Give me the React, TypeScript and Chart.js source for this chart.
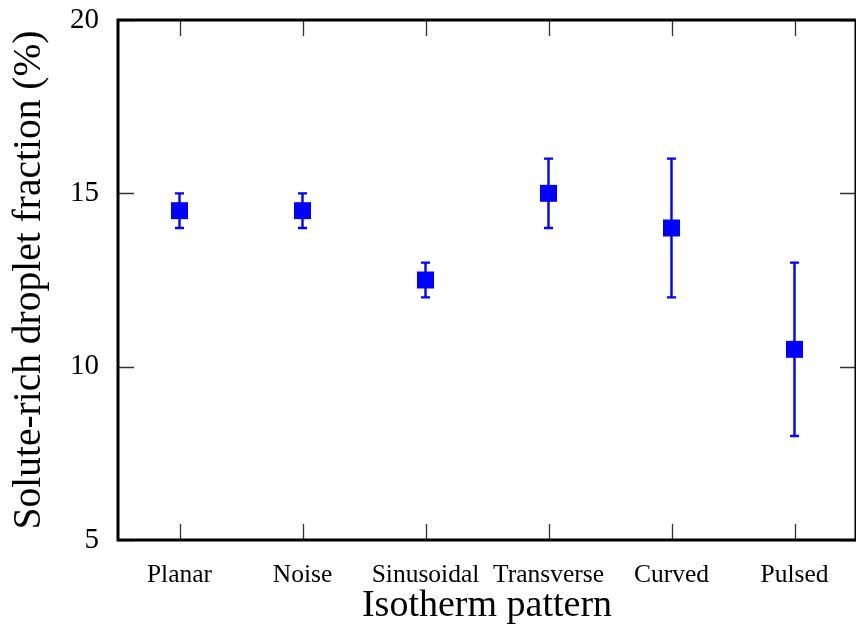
import React, { useEffect, useRef } from "react";
import { Chart, registerables } from "chart.js";

Chart.register(...registerables);

const categories = ["Planar", "Noise", "Sinusoidal", "Transverse", "Curved", "Pulsed"];
const fractionMeans = [14.5, 14.5, 12.5, 15, 14, 10.5];
const fractionErrors = [0.5, 0.5, 0.5, 1, 2, 2.5];
const yTickValues = [5, 10, 15, 20];

const FONT = '"Liberation Serif", "Times New Roman", Times, serif';
const BLUE = "#0000ff";

const framePlugin = {
  id: "frameAndErrors",
  beforeDatasetsDraw(chart: any) {
    const { ctx, scales } = chart;
    const x = scales.x;
    const y = scales.y;
    ctx.save();
    ctx.strokeStyle = BLUE;
    ctx.lineWidth = 2.4;
    fractionMeans.forEach((m, i) => {
      const px = x.getPixelForValue(i);
      const top = y.getPixelForValue(m + fractionErrors[i]);
      const bot = y.getPixelForValue(m - fractionErrors[i]);
      ctx.beginPath();
      ctx.moveTo(px, top);
      ctx.lineTo(px, bot);
      ctx.moveTo(px - 4.5, top);
      ctx.lineTo(px + 4.5, top);
      ctx.moveTo(px - 4.5, bot);
      ctx.lineTo(px + 4.5, bot);
      ctx.stroke();
    });
    ctx.restore();
  },
  afterDraw(chart: any) {
    const { ctx, chartArea: a, scales } = chart;
    const x = scales.x;
    const y = scales.y;
    ctx.save();
    ctx.strokeStyle = "#333";
    ctx.lineWidth = 1.3;
    ctx.beginPath();
    categories.forEach((_, i) => {
      const px = Math.round(x.getPixelForValue(i)) + 0.5;
      ctx.moveTo(px, a.bottom);
      ctx.lineTo(px, a.bottom - 16);
      ctx.moveTo(px, a.top);
      ctx.lineTo(px, a.top + 16);
    });
    yTickValues.forEach((v) => {
      const py = Math.round(y.getPixelForValue(v)) + 0.5;
      ctx.moveTo(a.left, py);
      ctx.lineTo(a.left + 16, py);
      ctx.moveTo(a.right, py);
      ctx.lineTo(a.right - 16, py);
    });
    ctx.stroke();
    ctx.strokeStyle = "#000";
    ctx.lineWidth = 3;
    ctx.strokeRect(a.left, a.top, a.right - a.left, a.bottom - a.top);
    ctx.restore();
  },
};

export default function App() {
  const canvasRef = useRef<HTMLCanvasElement | null>(null);

  useEffect(() => {
    document.body.style.margin = "0";
    const canvas = canvasRef.current;
    if (!canvas) return;
    const chart = new Chart(canvas, {
      type: "line",
      data: {
        labels: categories,
        datasets: [
          {
            label: "Solute-rich droplet fraction",
            data: fractionMeans,
            showLine: false,
            pointStyle: "rect",
            pointRadius: 12,
            pointHoverRadius: 12,
            pointBackgroundColor: BLUE,
            pointBorderColor: BLUE,
            pointBorderWidth: 0,
            backgroundColor: BLUE,
            borderColor: BLUE,
          },
        ],
      },
      options: {
        responsive: false,
        animation: false,
        devicePixelRatio: 1,
        layout: { autoPadding: false, padding: { top: 20, right: 0, left: 0, bottom: 0 } },
        plugins: {
          legend: { display: false },
          tooltip: { enabled: false },
        },
        scales: {
          x: {
            type: "category",
            offset: true,
            grid: { display: false, drawTicks: false },
            border: { display: false },
            ticks: {
              color: "#000",
              font: { family: FONT, size: 25.5 },
              padding: 20,
              maxRotation: 0,
              autoSkip: false,
            },
            title: {
              display: true,
              text: "Isotherm pattern",
              color: "#000",
              font: { family: FONT, size: 38 },
              padding: { top: 0, bottom: 13 },
            },
            afterFit: (s: any) => {
              s.height = 102;
              s.paddingLeft = 0;
              s.paddingRight = 0;
              s.paddingTop = 0;
              s.paddingBottom = 0;
            },
          },
          y: {
            type: "linear",
            min: 5,
            max: 20,
            grid: { display: false, drawTicks: false },
            border: { display: false },
            ticks: {
              color: "#000",
              font: { family: FONT, size: 29 },
              padding: 19,
              stepSize: 5,
            },
            afterBuildTicks: (s: any) => {
              s.ticks = yTickValues.map((v) => ({ value: v }));
            },
            title: {
              display: true,
              text: "Solute-rich droplet fraction (%)",
              color: "#000",
              font: { family: FONT, size: 39.5 },
              padding: { top: 6, bottom: 0 },
            },
            afterFit: (s: any) => {
              s.width = 118;
              s.paddingLeft = 0;
              s.paddingRight = 0;
              s.paddingTop = 0;
              s.paddingBottom = 0;
            },
          },
        },
      },
      plugins: [framePlugin],
    });
    return () => chart.destroy();
  }, []);

  return (
    <div style={{ width: 856, height: 642, background: "#fff" }}>
      <canvas ref={canvasRef} width={856} height={642} style={{ display: "block" }} />
    </div>
  );
}
